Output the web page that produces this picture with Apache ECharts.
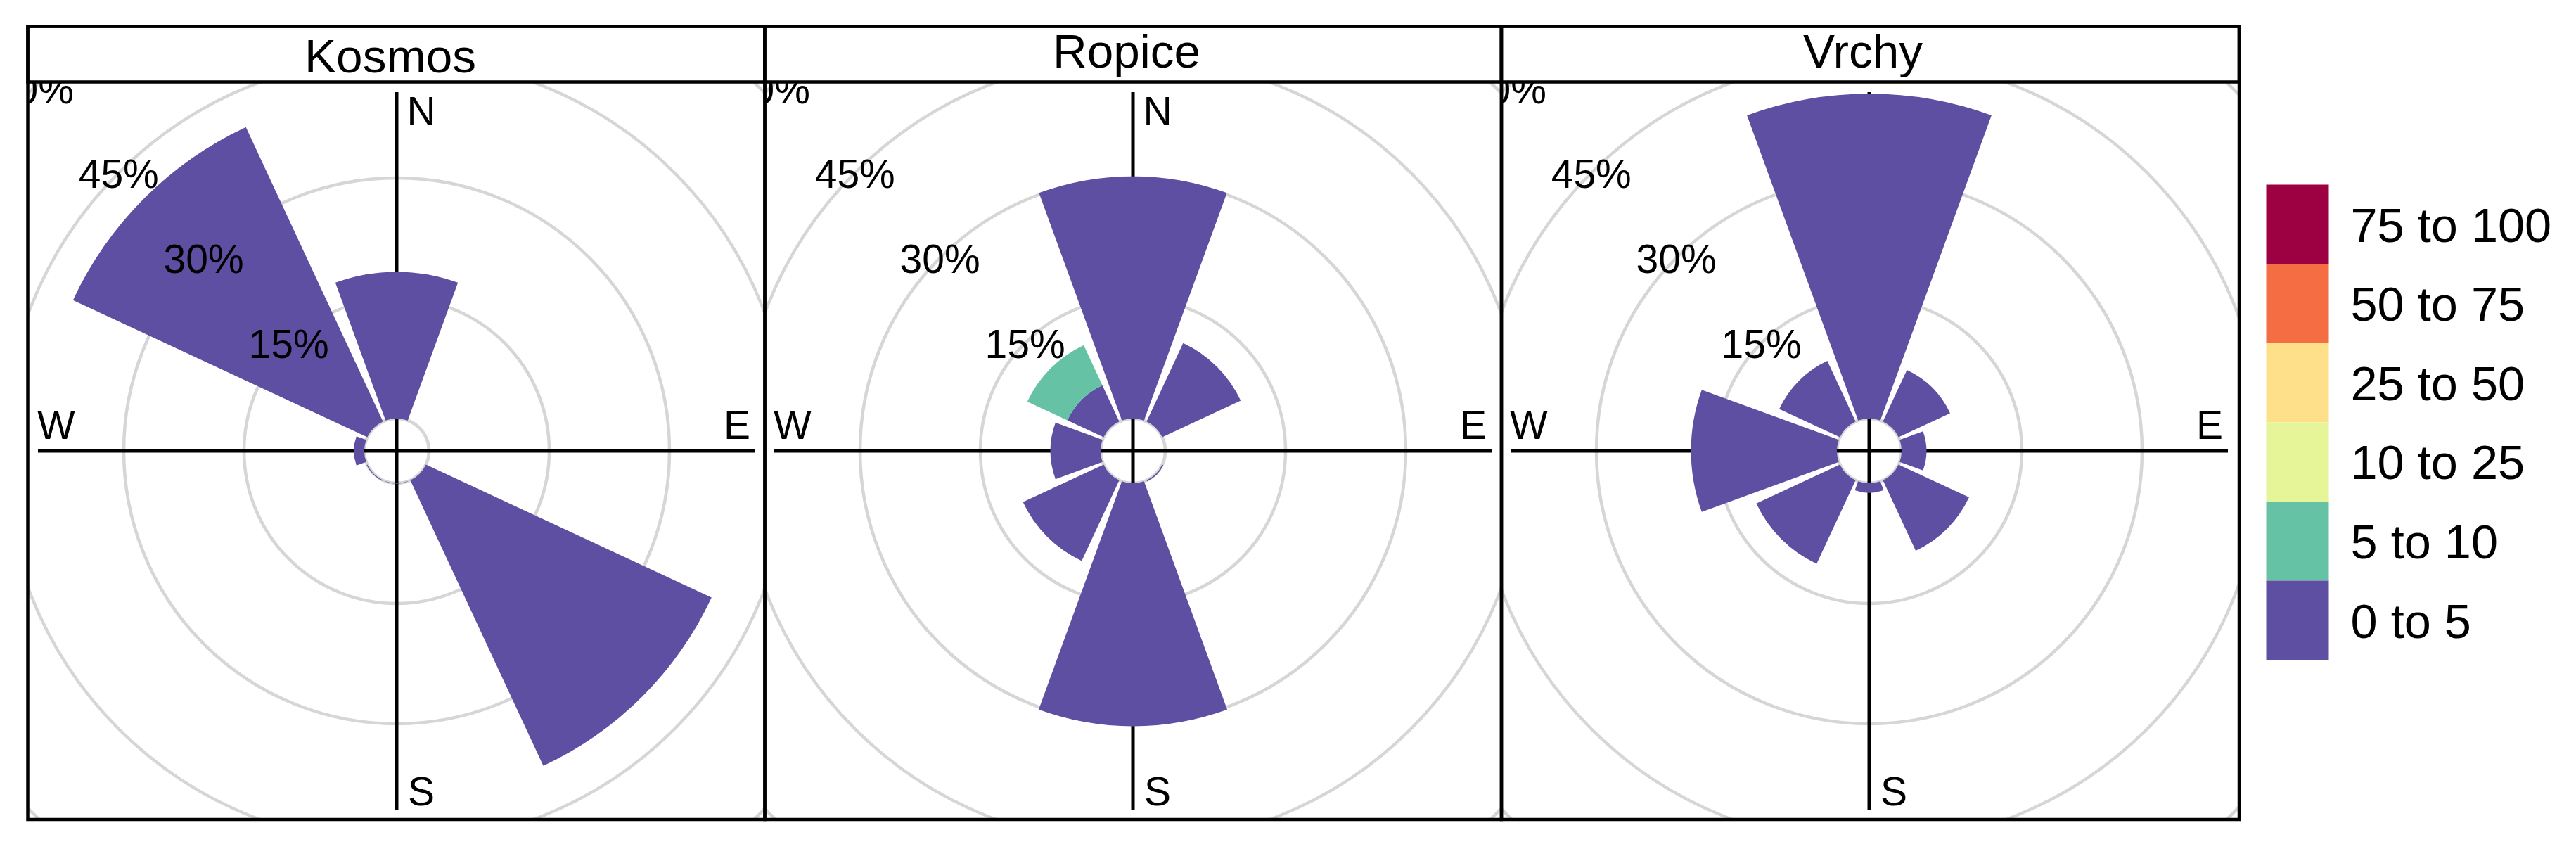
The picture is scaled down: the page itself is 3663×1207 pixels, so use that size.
<!DOCTYPE html>
<html>
<head>
<meta charset="utf-8">
<title>Wind roses</title>
<script src="https://cdn.jsdelivr.net/npm/echarts@6/dist/echarts.min.js"></script>
<style>
  html, body { margin: 0; padding: 0; background: #fff; }
  #page { position: relative; width: 3663px; height: 1207px; overflow: hidden; }
  .panel { position: absolute; top: 37px; width: 1048px; height: 1128px; }
  #overlay { position: absolute; left: 0; top: 0; width: 3663px; height: 1207px; }
</style>
</head>
<body>
<div id="page">
  <div class="panel" id="panel0" style="left:40px"></div>
  <div class="panel" id="panel1" style="left:1088px"></div>
  <div class="panel" id="panel2" style="left:2135px;width:1049px"></div>
  <div id="overlay"></div>
</div>

<script>
var directions = ['N', 'NE', 'E', 'SE', 'S', 'SW', 'W', 'NW'];
var binLabels = ['0 to 5', '5 to 10', '10 to 25', '25 to 50', '50 to 75', '75 to 100'];
var binColors = ['#5e4fa2', '#66c2a5', '#e6f598', '#fee08b', '#f46d43', '#9e0142'];
var ringTicks = [15, 30, 45, 60];
var panelNames = ['Kosmos', 'Ropice', 'Vrchy'];

// frequency (%) per direction, one array per concentration bin
var kosmosBin0 = [18.3, 0, 0, 39.3, 0.05, 0.1, 1.3, 40.5];
var ropiceBin0 = [30.2, 10.8, 0, 0.15, 30.3, 11.1, 6.25, 5];
var ropiceBin1 = [0, 0, 0, 0, 0, 0, 0, 5.5];
var vrchyBin0 = [40.5, 7.1, 3.1, 9.7, 1.2, 11.5, 18.2, 8.35];

var panelBins = [[kosmosBin0], [ropiceBin0, ropiceBin1], [vrchyBin0]];

var FONT = '"Liberation Sans", Arial, sans-serif';
var centersX = [524, 523, 523];
var CY = 604;

//一个面板一个实例，环形网格才能被面板边界裁掉
function compassGraphic(cx) {
  var els = [
    {type: 'line', shape: {x1: cx - 510, y1: CY, x2: cx + 510, y2: CY}},
    {type: 'line', shape: {x1: cx, y1: CY - 510, x2: cx, y2: CY + 510}}
  ].map(function (e) {
    e.silent = true;
    e.z = 1;
    e.style = {stroke: '#000', lineWidth: 5};
    return e;
  });
  var marks = [['N', 35, -479], ['S', 35, 488], ['E', 484, -33], ['W', -484, -33]];
  marks.forEach(function (m) {
    els.push({
      type: 'text', silent: true, z: 1, x: cx + m[1], y: CY + m[2],
      style: {text: m[0], font: '57px ' + FONT, fill: '#000', textAlign: 'center', textVerticalAlign: 'middle'}
    });
  });
  return els;
}

panelBins.forEach(function (bins, idx) {
  var chart = echarts.init(document.getElementById('panel' + idx));
  var series = bins.map(function (values, b) {
    return {
      name: binLabels[b],
      type: 'bar',
      coordinateSystem: 'polar',
      stack: 'freq',
      barCategoryGap: '11%',
      z: 2,
      silent: true,
      itemStyle: {color: binColors[b]},
      data: values
    };
  });
  // ring labels sit on the NW spoke
  series.push({
    type: 'scatter',
    coordinateSystem: 'polar',
    symbolSize: 0,
    z: 5,
    silent: true,
    itemStyle: {opacity: 1},
    label: {
      show: true, position: 'inside', color: '#000', opacity: 1, fontSize: 57, fontFamily: FONT, offset: [0, 6],
      formatter: function (p) { return p.value[0] + '%'; }
    },
    data: ringTicks.map(function (t) { return [t, 'NW']; })
  });
  chart.setOption({
    animation: false,
    backgroundColor: 'transparent',
    polar: {center: [centersX[idx], CY], radius: [46, 730]},
    angleAxis: {
      type: 'category', data: directions, startAngle: 112.5,
      axisLine: {show: false}, axisTick: {show: false}, axisLabel: {show: false}, splitLine: {show: false}
    },
    radiusAxis: {
      type: 'value', min: 0, max: 60, interval: 15,
      axisLine: {show: false}, axisTick: {show: false}, axisLabel: {show: false},
      splitLine: {show: true, lineStyle: {color: '#d6d6d6', width: 4.5}}
    },
    graphic: {elements: compassGraphic(centersX[idx])},
    series: series
  });
});

// strips, frames, titles and legend on top of the three panels
var overlay = echarts.init(document.getElementById('overlay'));
var panelLefts = [39.5, 1087.5, 2135];
var panelRights = [1087.5, 2135, 3184];
var titleX = [555, 1602, 2649];
var titleY = [84, 77, 77];
var frameEls = [];
panelLefts.forEach(function (left, i) {
  var w = panelRights[i] - left;
  frameEls.push({type: 'rect', z: 20, silent: true, shape: {x: left, y: 37.5, width: w, height: 79}, style: {fill: '#fff', stroke: '#000', lineWidth: 4.5}});
  frameEls.push({type: 'rect', z: 20, silent: true, shape: {x: left, y: 37.5, width: w, height: 1127.5}, style: {fill: null, stroke: '#000', lineWidth: 4.5}});
  frameEls.push({
    type: 'text', z: 21, silent: true, x: titleX[i], y: titleY[i],
    style: {text: panelNames[i], font: '67.5px ' + FONT, fill: '#000', textAlign: 'center', textVerticalAlign: 'middle'}
  });
});
overlay.setOption({
  animation: false,
  backgroundColor: 'transparent',
  grid: {show: false, left: 0, top: 0, width: 1, height: 1},
  xAxis: {show: false, type: 'category', data: []},
  yAxis: {show: false, type: 'value'},
  legend: {
    orient: 'vertical', left: 3222.5, top: 262.5, padding: 0, itemGap: 0,
    itemWidth: 89, itemHeight: 112.6, icon: 'rect', selectedMode: false,
    data: binLabels.slice().reverse(),
    formatter: function (name) { return '{s| }{a|' + name + '}'; },
    textStyle: {
      rich: {
        s: {width: 26, height: 80},
        a: {fontSize: 68.5, fontFamily: FONT, color: '#000', height: 68, lineHeight: 68, verticalAlign: 'bottom'}
      }
    }
  },
  graphic: {elements: frameEls},
  series: binLabels.map(function (name, b) {
    return {name: name, type: 'bar', data: [], itemStyle: {color: binColors[b]}};
  })
});
</script>
</body>
</html>
